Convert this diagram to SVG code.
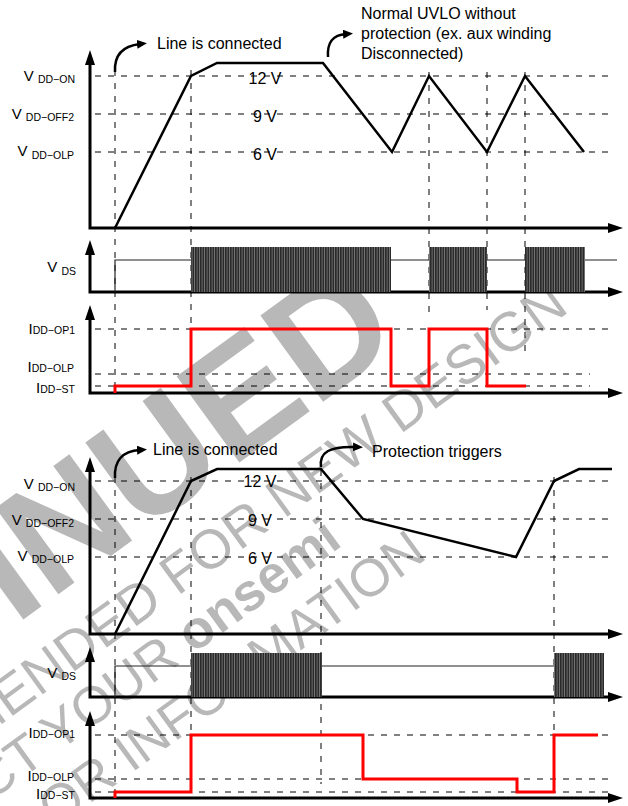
<svg xmlns="http://www.w3.org/2000/svg" width="628" height="806" viewBox="0 0 628 806">
<style>
.ax{stroke:#000;stroke-width:3;fill:none;marker-start:url(#axh);marker-end:url(#axh)}
.dash{stroke:#000;stroke-width:1;stroke-dasharray:6 7;fill:none}
.wave{stroke:#000;stroke-width:2.5;fill:none;stroke-linejoin:miter}
.red{stroke:#ff0000;stroke-width:3;fill:none}
.thin{stroke:#222;stroke-width:1.2;fill:none}
.sw{fill:url(#swp)}
.cur{stroke:#000;stroke-width:2.5;fill:none;marker-end:url(#cah)}
text{font-family:"Liberation Sans",Arial,Helvetica,sans-serif;fill:#000}
.lbl{font-size:15px}
.sub{font-size:10.5px}
.ann{font-size:16px}
.val{font-size:16px}
.wm{fill:#b8b8b8}
</style>
<defs>
<marker id="axh" viewBox="0 0 15 10" markerWidth="15" markerHeight="10" refX="5" refY="5" orient="auto-start-reverse" markerUnits="userSpaceOnUse"><path d="M0,0 L15,5 L0,10 z" fill="#000"/></marker>
<marker id="cah" viewBox="0 0 10 9" markerWidth="10" markerHeight="9" refX="3" refY="4.5" orient="auto" markerUnits="userSpaceOnUse"><path d="M0,0 L10,4.5 L0,9 z" fill="#000"/></marker>
<pattern id="swp" width="2.5" height="10" patternUnits="userSpaceOnUse"><rect width="2.5" height="10" fill="#2a2a2a"/><rect x="1.8" width="0.6" height="10" fill="#9a9a9a"/></pattern>
</defs>

<g id="watermark" transform="translate(300,500) rotate(-36)">
<text class="wm" x="178" y="-66" text-anchor="end" font-size="155" font-weight="bold">INUED</text>
<text class="wm" x="330" y="6" text-anchor="end" font-size="55">MENDED FOR NEW DESIGN</text>
<text class="wm" x="9" y="62" text-anchor="end" font-size="53">CT YOUR <tspan font-weight="bold">onsemi</tspan></text>
<text class="wm" x="70" y="122" text-anchor="end" font-size="53">OR INFORMATION</text>
</g>

<g id="connectors">
<path class="dash" d="M95,76 H608 M95,114 H615 M95,152 H608"/>
<path class="dash" d="M95,329 H608 M95,374 H590 M95,386 H590"/>
<path class="dash" d="M115,70 V386 M191,70 V329 M429,72 V316 M487,72 V310 M525,72 V358"/>
<path class="dash" d="M95,481 H608 M95,519 H615 M95,557 H608"/>
<path class="dash" d="M95,735 H608 M95,779 H608 M95,792 H608"/>
<path class="dash" d="M115,477 V792 M191,477 V735 M321,470 V784 M554,477 V735"/>
<path class="cur" d="M115,72 C114,55 122,46 140,44"/>
<path class="cur" d="M328,57 C327,42 333,35 346,34"/>
<path class="cur" d="M115,478 C114,461 122,451 140,450"/>
<path class="cur" d="M321,467 C319,452 330,446 356,447"/>
</g>

<g id="vdd-top">
<path class="ax" d="M90,60 V228 H613"/>
<path class="wave" d="M115,228 L191,76 L217,63 L323,63 L392,152 L429,76 L487,152 L525,76 L584,152"/>
<text class="lbl" x="75" y="80.5" text-anchor="end">V <tspan class="sub" dy="2.5">DD−ON</tspan></text>
<text class="lbl" x="74" y="118.5" text-anchor="end">V <tspan class="sub" dy="2.5">DD−OFF2</tspan></text>
<text class="lbl" x="74" y="156" text-anchor="end">V <tspan class="sub" dy="2.5">DD−OLP</tspan></text>
<text class="val" x="265" y="84" text-anchor="middle">12 V</text>
<text class="val" x="265" y="122" text-anchor="middle">9 V</text>
<text class="val" x="265" y="160" text-anchor="middle">6 V</text>
<text class="ann" x="157" y="49">Line is connected</text>
<text class="ann" x="361" y="19">Normal UVLO without</text>
<text class="ann" x="361" y="39">protection (ex. aux winding</text>
<text class="ann" x="361" y="59">Disconnected)</text>
</g>

<g id="vds-top">
<path class="ax" d="M90,250 V292 H613"/>
<path class="thin" d="M115,292 V260 H191 M391,260 H429 M487,260 H525 M585,260 H617"/>
<rect class="sw" x="191" y="247" width="200" height="45"/>
<rect class="sw" x="429" y="247" width="58" height="45"/>
<rect class="sw" x="525" y="247" width="60" height="45"/>
<text class="lbl" x="76" y="272" text-anchor="end">V <tspan class="sub" dy="2.5">DS</tspan></text>
</g>

<g id="idd-top">
<path class="ax" d="M90,315 V393 H613"/>
<path class="red" d="M115,393 V386 H191 V329 H391 V386 H429 V329 H487 V386 H526"/>
<text class="lbl" x="75" y="334" text-anchor="end">I<tspan class="sub">DD−OP1</tspan></text>
<text class="lbl" x="74" y="372" text-anchor="end">I<tspan class="sub">DD−OLP</tspan></text>
<text class="lbl" x="75" y="393" text-anchor="end">I<tspan class="sub">DD−ST</tspan></text>
</g>

<g id="vdd-bottom">
<path class="ax" d="M90,467 V634 H613"/>
<path class="wave" d="M115,634 L191,481 L217,469 L321,469 L363,519 L516,557 L554,481 L579,469 L612,469"/>
<text class="lbl" x="75" y="489" text-anchor="end">V <tspan class="sub" dy="2">DD−ON</tspan></text>
<text class="lbl" x="74" y="525" text-anchor="end">V <tspan class="sub" dy="2">DD−OFF2</tspan></text>
<text class="lbl" x="74" y="561" text-anchor="end">V <tspan class="sub" dy="2">DD−OLP</tspan></text>
<text class="val" x="260" y="487" text-anchor="middle">12 V</text>
<text class="val" x="260" y="526" text-anchor="middle">9 V</text>
<text class="val" x="260" y="564" text-anchor="middle">6 V</text>
<text class="ann" x="153" y="455">Line is connected</text>
<text class="ann" x="372" y="457">Protection triggers</text>
</g>

<g id="vds-bottom">
<path class="ax" d="M90,657 V697 H613"/>
<path class="thin" d="M115,697 V666 H191 M322,666 H554"/>
<rect class="sw" x="191" y="653" width="131" height="44"/>
<rect class="sw" x="554" y="653" width="50" height="44"/>
<text class="lbl" x="76" y="678" text-anchor="end">V <tspan class="sub" dy="2">DS</tspan></text>
</g>

<g id="idd-bottom">
<path class="ax" d="M90,721 V798 H613"/>
<path class="red" d="M115,798 V792 H191 V735 H363 V779 H517 V792 H554 V735 H598"/>
<text class="lbl" x="75" y="738" text-anchor="end">I<tspan class="sub">DD−OP1</tspan></text>
<text class="lbl" x="74" y="781" text-anchor="end">I<tspan class="sub">DD−OLP</tspan></text>
<text class="lbl" x="75" y="799" text-anchor="end">I<tspan class="sub">DD−ST</tspan></text>
</g>
</svg>
